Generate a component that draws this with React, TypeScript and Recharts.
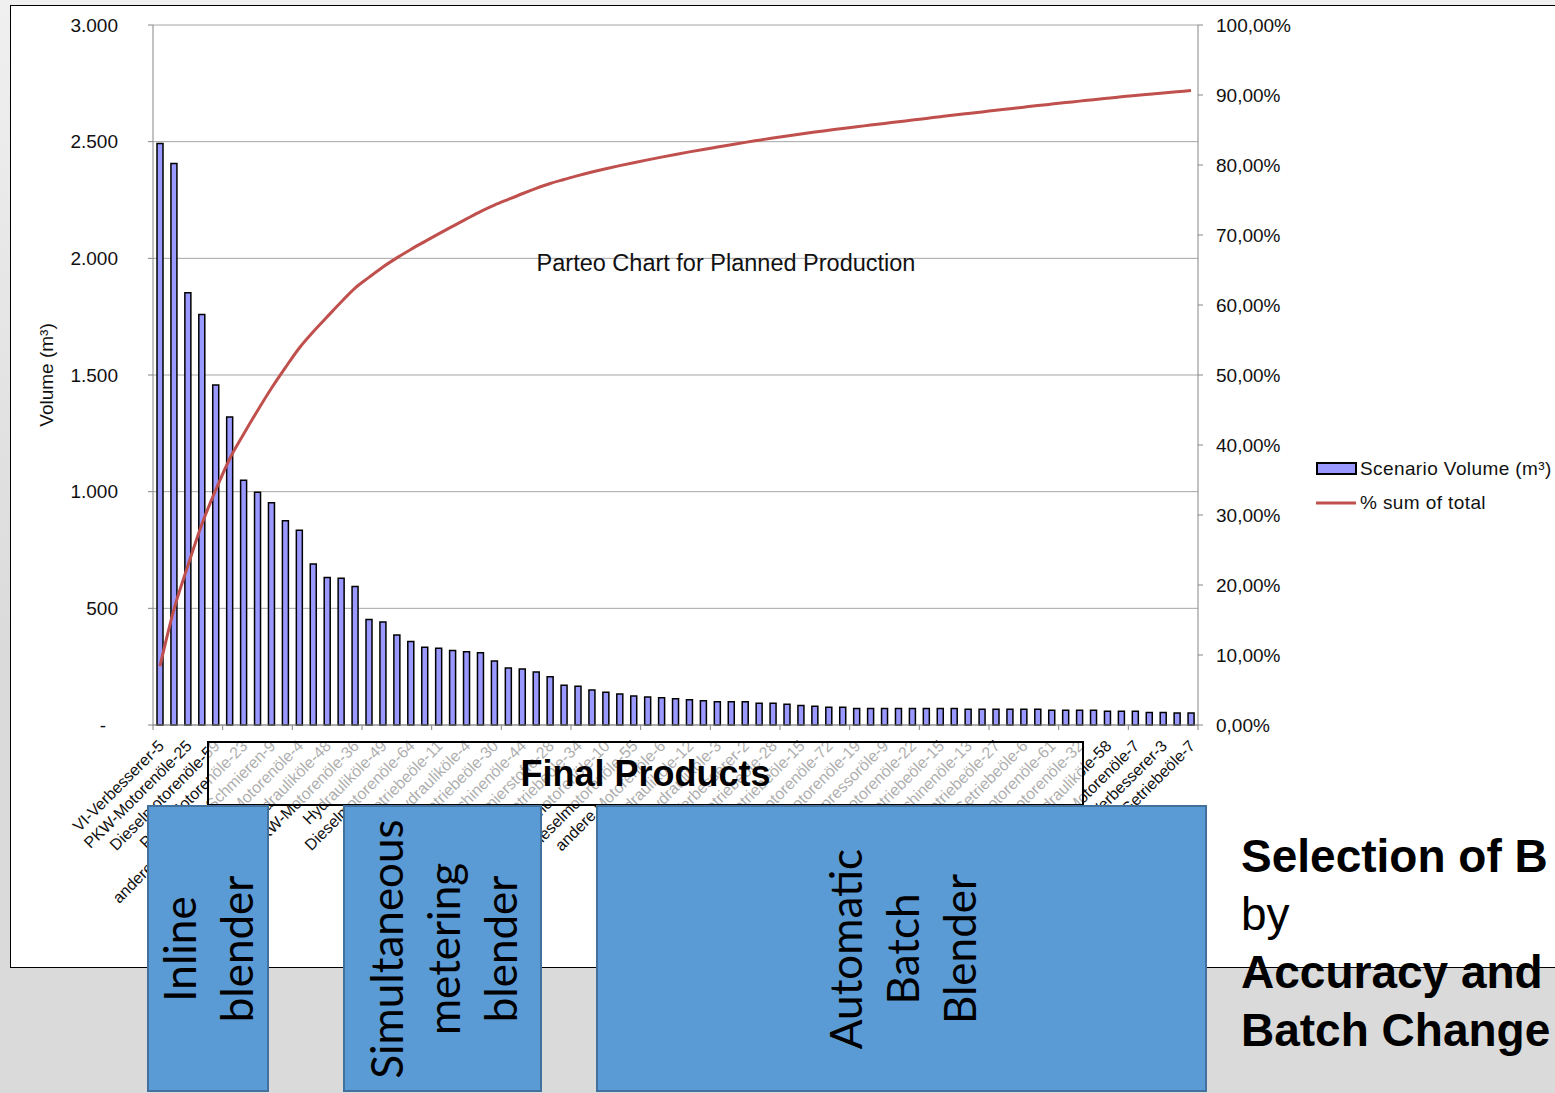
import React from 'react';
import { ComposedChart, Bar, Line, XAxis, YAxis, CartesianGrid, Legend } from 'recharts';

// Scenario volume per final product (m³), sorted descending
const volumes = [
  2492, 2406, 1853, 1759, 1457, 1320, 1049, 998, 952, 875,
  835, 690, 632, 629, 594, 452, 441, 386, 358, 333,
  329, 319, 314, 310, 274, 244, 240, 227, 207, 170,
  166, 150, 140, 133, 124, 120, 117, 113, 108, 104,
  100, 100, 100, 93, 93, 89, 84, 80, 76, 76,
  71, 71, 71, 71, 71, 71, 71, 71, 67, 67,
  67, 67, 67, 67, 63, 63, 63, 63, 59, 59,
  59, 54, 54, 51, 51,
];

// total planned volume incl. the small products not shown in the chart
const totalVolume = 29700;

// category labels, Excel shows every second one
const tickLabels = [
  'VI-Verbesserer-5', 'PKW-Motorenöle-25', 'Dieselmotorenöle-59', 'PKW-Motorenöle-23',
  'andere Mittel zum Schmieren-9', 'PKW-Motorenöle-4', 'Hydrauliköle-48', 'PKW-Motorenöle-36',
  'Hydrauliköle-49', 'Dieselmotorenöle-64', 'Getriebeöle-11', 'Hydrauliköle-4',
  'Getriebeöle-30', 'Maschinenöle-44', 'Schmierstoffe-28', 'Getriebeöle-34',
  'Dieselmotorenöle-10', 'Dieselmotorenöle-55', 'andere Motorenöle-6', 'Hydrauliköle-12',
  'Hydrauliköle-3', 'VI-Verbesserer-2', 'Getriebeöle-28', 'Getriebeöle-15',
  'Motorenöle-72', 'Motorenöle-19', 'Kompressoröle-9', 'Motorenöle-22',
  'Getriebeöle-15', 'Maschinenöle-13', 'Getriebeöle-27', 'Getriebeöle-6',
  'Motorenöle-61', 'Motorenöle-32', 'Hydrauliköle-58', 'Motorenöle-7',
  'VI-Verbesserer-3', 'Getriebeöle-7',
];

const volumeTicks = [0, 500, 1000, 1500, 2000, 2500, 3000];
const percentTicks = [0, 0.1, 0.2, 0.3, 0.4, 0.5, 0.6, 0.7, 0.8, 0.9, 1];

const FONT = '"Liberation Sans", Arial, sans-serif';
const PLOT_LEFT = 153;
const PLOT_RIGHT = 1198;
const BAND = (PLOT_RIGHT - PLOT_LEFT) / volumes.length;

let running = 0;
const data = volumes.map((v, i) => {
  running += v;
  return { id: i, volume: v, cum: running / totalVolume };
});

const fmtVolume = (v: number) => {
  if (v === 0) return '-';
  if (v >= 1000) return `${Math.floor(v / 1000)}.${String(v % 1000).padStart(3, '0')}`;
  return String(v);
};

const fmtPercent = (v: number) => (v * 100).toFixed(2).replace('.', ',') + '%';

const VolumeTick = ({ x, y, payload }: any) => (
  <text
    x={payload.value === 0 ? x - 12 : x}
    y={y}
    dy="0.355em"
    textAnchor="end"
    fontSize={19}
    fill="#111"
    fontFamily={FONT}
  >
    {fmtVolume(payload.value)}
  </text>
);

const CategoryTick = ({ x, y, payload }: any) => {
  const i = payload.value;
  const label = i % 2 === 0 ? tickLabels[i / 2] : null;
  const ax = x + 5;
  const ay = y + 22;
  return (
    <g>
      {i % 5 === 0 && (
        <line x1={x - BAND / 2} x2={x - BAND / 2} y1={y} y2={y + 5} stroke="#868686" />
      )}
      {i === volumes.length - 1 && (
        <line x1={x + BAND / 2} x2={x + BAND / 2} y1={y} y2={y + 5} stroke="#868686" />
      )}
      {label && (
        <text
          x={ax}
          y={ay}
          textAnchor="end"
          transform={`rotate(-45, ${ax}, ${ay})`}
          fontSize={16}
          fill="#111"
          fontFamily={FONT}
        >
          {label}
        </text>
      )}
    </g>
  );
};

const renderLegend = () => (
  <div style={{ fontFamily: FONT, fontSize: 19, letterSpacing: 0.4, color: '#111', lineHeight: '34px' }}>
    <div style={{ display: 'flex', alignItems: 'center', whiteSpace: 'nowrap' }}>
      <svg width={44} height={14}>
        <rect x={1} y={1} width={39} height={11} fill="#9999ff" stroke="#000" strokeWidth={2} />
      </svg>
      <span>Scenario Volume (m³)</span>
    </div>
    <div style={{ display: 'flex', alignItems: 'center', whiteSpace: 'nowrap' }}>
      <svg width={44} height={14}>
        <line x1={0} x2={40} y1={7} y2={7} stroke="#c0504d" strokeWidth={3} />
      </svg>
      <span>% sum of total</span>
    </div>
  </div>
);

const blueBox: React.CSSProperties = {
  position: 'absolute',
  top: 805,
  height: 287,
  boxSizing: 'border-box',
  background: '#5b9bd5',
  border: '2px solid #41719c',
};

const boxText: React.CSSProperties = {
  position: 'absolute',
  left: '50%',
  top: '50%',
  transform: 'translate(-50%, -50%) rotate(-90deg)',
  fontFamily: 'Lato, "Open Sans", sans-serif',
  fontSize: 44,
  lineHeight: '57px',
  color: '#000',
  textAlign: 'center',
  whiteSpace: 'pre',
};

const App = () => {
  return (
    <div
      style={{
        position: 'absolute',
        left: 0,
        top: 0,
        width: 1555,
        height: 1093,
        overflow: 'hidden',
        background: 'linear-gradient(to bottom, #f0f0f0, #dadada 60%, #dadada)',
      }}
    >
      <div
        style={{
          position: 'absolute',
          left: 10,
          top: 5,
          width: 1600,
          height: 963,
          boxSizing: 'border-box',
          background: '#fff',
          border: '1px solid #000',
        }}
      />
      <div style={{ position: 'absolute', left: 0, top: 0 }}>
        <ComposedChart
          width={1555}
          height={968}
          data={data}
          margin={{ top: 25, right: 247, bottom: 5, left: 10 }}
          style={{ fontFamily: FONT }}
        >
          <CartesianGrid yAxisId="left" vertical={false} stroke="#a6a6a6" />
          <XAxis
            dataKey="id"
            interval={0}
            tick={<CategoryTick />}
            tickLine={false}
            tickSize={0}
            tickMargin={0}
            axisLine={{ stroke: '#868686' }}
            height={238}
          />
          <YAxis
            yAxisId="left"
            domain={[0, 3000]}
            ticks={volumeTicks}
            width={143}
            tick={<VolumeTick />}
            tickSize={5}
            tickMargin={30}
            axisLine={{ stroke: '#868686' }}
            tickLine={{ stroke: '#868686' }}
          />
          <YAxis
            yAxisId="right"
            orientation="right"
            domain={[0, 1]}
            ticks={percentTicks}
            tickFormatter={fmtPercent}
            width={110}
            tickSize={5}
            tickMargin={13}
            tick={{ fontSize: 19, fill: '#111', fontFamily: FONT }}
            axisLine={{ stroke: '#868686' }}
            tickLine={{ stroke: '#868686' }}
          />
          <Legend
            layout="vertical"
            align="center"
            verticalAlign="middle"
            wrapperStyle={{ left: 1316, top: 452, width: 240 }}
            content={renderLegend}
          />
          <Bar
            yAxisId="left"
            dataKey="volume"
            name="Scenario Volume (m³)"
            fill="#9999ff"
            stroke="#000"
            strokeWidth={1.5}
            barSize={6}
            isAnimationActive={false}
          />
          <Line
            yAxisId="right"
            dataKey="cum"
            name="% sum of total"
            type="monotone"
            stroke="#c0504d"
            strokeWidth={3}
            dot={false}
            isAnimationActive={false}
          />
        </ComposedChart>
      </div>

      {/* chart title, overlaid on the plot like in Excel */}
      <div
        style={{
          position: 'absolute',
          left: 726,
          top: 250,
          transform: 'translateX(-50%)',
          fontFamily: FONT,
          fontSize: 23.5,
          lineHeight: '26px',
          color: '#111',
          whiteSpace: 'nowrap',
        }}
      >
        Parteo Chart for Planned Production
      </div>

      {/* y-axis title */}
      <div
        style={{
          position: 'absolute',
          left: 47,
          top: 375,
          transform: 'translate(-50%, -50%) rotate(-90deg)',
          fontFamily: FONT,
          fontSize: 19,
          color: '#111',
          whiteSpace: 'nowrap',
        }}
      >
        Volume (m³)
      </div>

      {/* slide annotations */}
      <div
        style={{
          position: 'absolute',
          left: 207,
          top: 741,
          width: 877,
          height: 65,
          boxSizing: 'border-box',
          border: '2px solid #000',
          background: 'rgba(255,255,255,0.65)',
          display: 'flex',
          alignItems: 'center',
          justifyContent: 'center',
          fontFamily: FONT,
          fontWeight: 'bold',
          fontSize: 36,
          color: '#000',
        }}
      >
        Final Products
      </div>

      <div style={{ ...blueBox, left: 147, width: 122 }}>
        <div style={boxText}>{'Inline\nblender'}</div>
      </div>
      <div style={{ ...blueBox, left: 343, width: 199 }}>
        <div style={boxText}>{'Simultaneous\nmetering\nblender'}</div>
      </div>
      <div style={{ ...blueBox, left: 596, width: 611 }}>
        <div style={boxText}>{'Automatic\nBatch\nBlender'}</div>
      </div>

      <div
        style={{
          position: 'absolute',
          left: 1241,
          top: 827,
          fontFamily: FONT,
          fontSize: 46,
          lineHeight: '58px',
          color: '#000',
          whiteSpace: 'nowrap',
        }}
      >
        <div style={{ fontWeight: 'bold' }}>Selection of B</div>
        <div>by</div>
        <div style={{ fontWeight: 'bold' }}>Accuracy and</div>
        <div style={{ fontWeight: 'bold' }}>Batch Change</div>
      </div>
    </div>
  );
};

export default App;
